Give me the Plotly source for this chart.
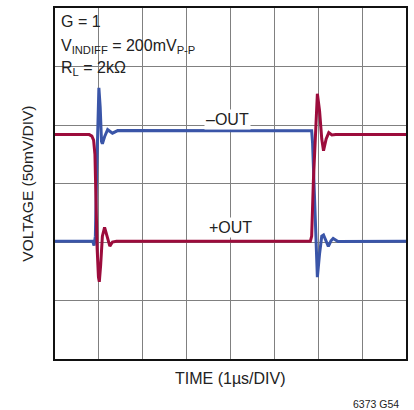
import plotly.graph_objects as go

# -OUT trace (blue): time in µs, voltage in mV
out_minus_t = [0, 0.86, 0.89, 0.92, 0.95, 0.98, 1.00, 1.03, 1.06, 1.08, 1.13, 1.20, 1.26, 1.31, 1.43,
               5.82, 5.85, 5.87, 5.91, 5.95, 5.98, 6.03, 6.08, 6.12, 6.18, 6.23, 6.29, 6.34, 6.45, 8.0]
out_minus_v = [-49.4, -49.4, -53, -45, 10, 60, 81.8, 65, 36, 34, 40, 46, 44, 43, 45.2,
               45.2, 45, 35, -10, -55, -80, -60, -45, -44, -50, -53.7, -49, -47, -49.5, -49.4]

# +OUT trace (red)
out_plus_t = [0, 0.78, 0.84, 0.88, 0.91, 0.93, 0.96, 0.99, 1.01, 1.04, 1.08, 1.13, 1.18, 1.25, 1.31, 1.40,
              5.82, 5.85, 5.89, 5.94, 5.98, 6.03, 6.08, 6.12, 6.18, 6.24, 6.31, 6.40, 8.0]
out_plus_v = [41.8, 41.8, 40.5, 37, 25, -10, -55, -80, -84, -70, -45, -37.5, -45, -53.5, -50, -49.4,
              -49.4, -45, 3, 50, 76.7, 62, 38, 28, 38, 43.5, 41.5, 41.8, 41.8]

BLUE = "#3a55a8"
RED = "#9c0c3c"
FONT = "Liberation Sans Narrow, Arial Narrow, Liberation Sans, Arial, sans-serif"
TXT = "#222"

fig = go.Figure()
fig.add_trace(go.Scatter(x=out_minus_t, y=out_minus_v, mode="lines",
                         line=dict(color=BLUE, width=3), hoverinfo="skip"))
fig.add_trace(go.Scatter(x=out_plus_t, y=out_plus_v, mode="lines",
                         line=dict(color=RED, width=3), hoverinfo="skip"))

fig.update_xaxes(range=[0, 8], dtick=1, tick0=0, showticklabels=False, ticks="",
                 showgrid=True, gridcolor="#808080", gridwidth=1, zeroline=False,
                 showline=True, linecolor="#111", linewidth=2, mirror=True)
fig.update_yaxes(range=[-150, 150], dtick=50, tick0=-150, showticklabels=False, ticks="",
                 showgrid=True, gridcolor="#808080", gridwidth=1, zeroline=False,
                 showline=True, linecolor="#111", linewidth=2, mirror=True)

# white box behind the conditions text
fig.add_shape(type="rect", xref="x", yref="y", x0=0, x1=3.64, y0=91.5, y1=150,
              fillcolor="white", line=dict(width=0), layer="below")

def ptxt(text, px, py, size=16, xanchor="center", yanchor="middle", **kw):
    """place text by pixel position of its anchor (plot area: x 55..408, y 7..359)"""
    fig.add_annotation(xref="paper", yref="paper", x=(px - 55) / 353, y=(359 - py) / 352,
                       xanchor=xanchor, yanchor=yanchor,
                       text=text, showarrow=False, font=dict(family=FONT, size=size, color=TXT), **kw)

ptxt("G = 1", 59, 21, xanchor="left")
ptxt("V<sub>INDIFF</sub> = 200mV<sub>P-P</sub>", 59, 46, xanchor="left")
ptxt("R<sub>L</sub> = 2kΩ", 59, 68, xanchor="left")

fig.add_annotation(x=3.93, y=55, text="–OUT", showarrow=False, bgcolor="white",
                   font=dict(family=FONT, size=16, color=TXT), borderpad=1)
fig.add_annotation(x=4.0, y=-38, text="+OUT", showarrow=False, bgcolor="white",
                   font=dict(family=FONT, size=16, color=TXT), borderpad=1)

ptxt("TIME (1µs/DIV)", 231, 379, size=16)
ptxt("VOLTAGE (50mV/DIV)", 27, 183, size=15.5, textangle=-90)
ptxt("6373 G54", 403, 404, size=10.5, xanchor="right")

fig.update_layout(width=414, height=410, margin=dict(l=55, r=6, t=7, b=51),
                  paper_bgcolor="white", plot_bgcolor="white", showlegend=False)

fig.write_html("out.html", config={"displayModeBar": False, "staticPlot": True},
               post_script="document.body.style.margin='0';document.body.style.overflow='hidden';")
